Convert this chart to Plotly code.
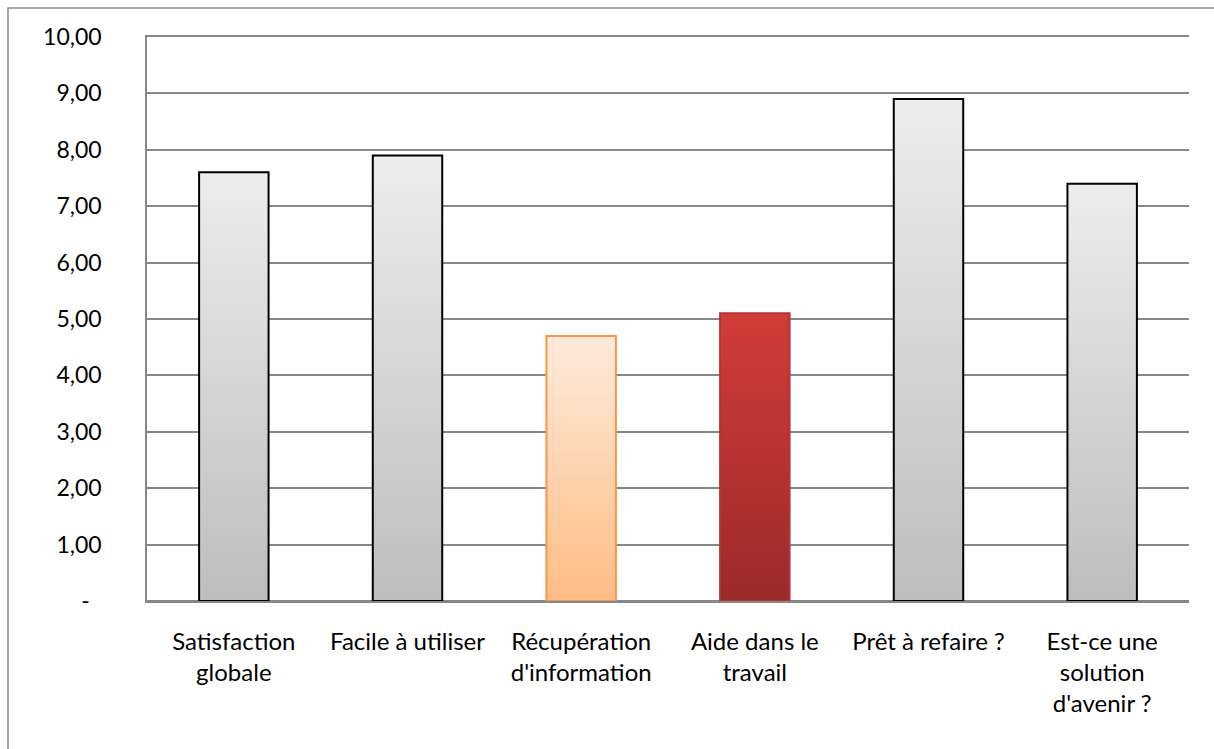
import plotly.graph_objects as go

# Survey scores per question (scale 0-10)
categories = ["Satisfaction<br>globale", "Facile à utiliser", "Récupération<br>d'information",
              "Aide dans le<br>travail", "Prêt à refaire ?", "Est-ce une<br>solution<br>d'avenir ?"]
scores = [7.6, 7.9, 4.7, 5.1, 8.9, 7.4]

# Vertical gradient per bar: (top colour, bottom colour, outline colour)
bar_styles = [
    ("#ECECEC", "#BDBDBD", "#000000"),
    ("#ECECEC", "#BDBDBD", "#000000"),
    ("#FDEADA", "#FFBC84", "#F79646"),
    ("#D23C38", "#9A2A2A", "#B53333"),
    ("#ECECEC", "#BDBDBD", "#000000"),
    ("#ECECEC", "#BDBDBD", "#000000"),
]

ytick_vals = [0, 1, 2, 3, 4, 5, 6, 7, 8, 9, 10]
ytick_text = ["-\u00a0\u00a0", "1,00", "2,00", "3,00", "4,00", "5,00",
              "6,00", "7,00", "8,00", "9,00", "10,00"]


def hex_rgb(h):
    h = h.lstrip("#")
    return tuple(int(h[i:i + 2], 16) for i in (0, 2, 4))


def mix(top, bottom, f):
    a, b = hex_rgb(top), hex_rgb(bottom)
    c = [round(b[i] + (a[i] - b[i]) * f) for i in range(3)]
    return f"rgb({c[0]},{c[1]},{c[2]})"


fig = go.Figure()

# Gradient fill: overlaid bars from full height down to short, each a shade
steps = 60
for k in range(steps):
    frac = 1 - k / steps
    fig.add_trace(go.Bar(
        x=categories,
        y=[v * frac for v in scores],
        marker=dict(color=[mix(t, b, frac) for t, b, _ in bar_styles], line=dict(width=0)),
        width=0.4,
        hoverinfo="skip",
        showlegend=False,
    ))

# Bar outlines
fig.add_trace(go.Bar(
    x=categories,
    y=scores,
    marker=dict(color="rgba(0,0,0,0)",
                line=dict(color=[o for _, _, o in bar_styles], width=2)),
    width=0.4,
    showlegend=False,
))

# Chart-area frame
fig.add_shape(type="rect", xref="paper", yref="paper",
              x0=-0.1334, x1=1.2, y0=-0.5, y1=1.0514,
              line=dict(color="#8C8C8C", width=1.5), layer="below")

fig.update_layout(
    width=1214, height=749,
    margin=dict(l=147, r=25, t=37, b=148),
    barmode="overlay",
    plot_bgcolor="white",
    paper_bgcolor="white",
    font=dict(family="Lato", size=24, color="#000000"),
    showlegend=False,
)

fig.update_xaxes(
    showgrid=False,
    showline=True,
    mirror=True,
    linecolor="#878787",
    linewidth=1.5,
    ticks="",
    tickangle=0,
    ticklabelstandoff=18,
)

fig.update_yaxes(
    range=[0, 10],
    tickvals=ytick_vals,
    ticktext=ytick_text,
    tickfont=dict(size=23),
    showgrid=True,
    gridcolor="#878787",
    gridwidth=1.5,
    showline=True,
    linecolor="#878787",
    linewidth=1.5,
    zeroline=True,
    zerolinecolor="#878787",
    zerolinewidth=1.5,
    ticks="",
    ticklabelstandoff=39,
)

fig.write_html("out.html")
